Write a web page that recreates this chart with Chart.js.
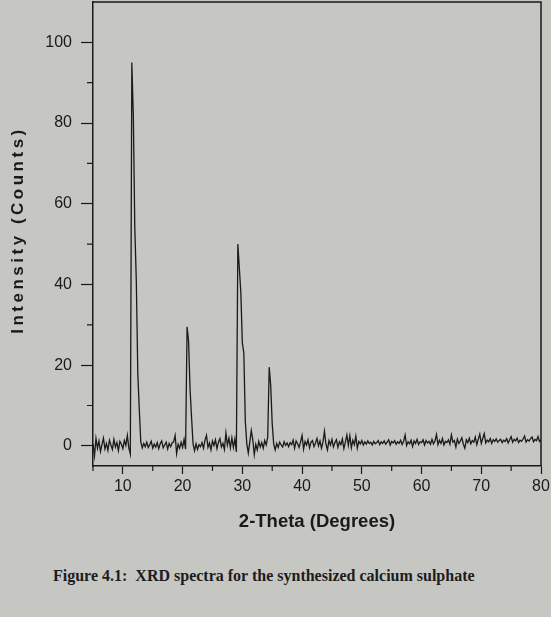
<!DOCTYPE html>
<html>
<head>
<meta charset="utf-8">
<script src="https://cdn.jsdelivr.net/npm/chart.js@4"></script>
<style>
  html, body { margin: 0; padding: 0; background: #c6c6c3; }
  #wrap { position: relative; width: 551px; height: 617px; overflow: hidden; }
  #xrd { position: absolute; left: 0; top: 0; }
  #caption {
    position: absolute; left: 53px; top: 567px;
    font: bold 16px "Liberation Serif", "Times New Roman", serif;
    color: #1c1c1c; white-space: nowrap;
  }
</style>
</head>
<body>
<div id="wrap">
  <canvas id="xrd" width="551" height="540"></canvas>
  <div id="caption">Figure 4.1:&nbsp; XRD spectra for the synthesized calcium sulphate</div>
</div>
<script>
/* XRD pattern, 2-theta from 5 to 80 deg, one reading every 0.25 deg */

const thetaStart = 5;
const thetaStep = 0.25;

const intensity = [
    // 5.00 - 11.25
    0.5, -2.5, 1.8, -0.6, 1.2, -1.4, 0.3, 1.9, -0.8, 0.6,
    -1.1, 1.4, 0.2, -0.9, 1.6, -0.3, 0.8, -1.2, 1.1, 0.4,
    -0.7, 1.3, 0.1, 2.6, -0.5, -2.0,
    // peak 11.50 - 13.00
    95, 82, 54, 41, 18, 9, 1,
    // 13.25 - 20.50
    -0.5, 0.6, -0.2, 0.9, -0.4, 0.3, 1.1, -0.6, 0.4, -0.3,
    0.8, -0.7, 0.5, 1.2, -0.5, 0.2, 0.9, -0.8, 0.6, -0.2,
    0.7, 1.0, 2.6, -1.9, 0.4, -0.6, 0.9, -0.4, 1.6, -0.8,
    // peak 20.75 - 21.75
    29.5, 26, 14, 7, 0.5,
    // 22.00 - 29.00
    -1.2, 0.5, -0.9, 0.3, -0.2, 0.8, -0.6, 1.4, 2.6, -0.4,
    0.7, -1.0, 1.2, 0.1, 1.5, -0.7, 0.9, 1.8, -0.3, 0.6,
    -0.9, 3.2, 0.2, 1.9, -0.5, 2.0, -0.4, 1.7, -1.5,
    // peak 29.25 - 30.75
    50, 44, 38, 25.5, 23, 6, 0.5,
    // 31.00 - 34.25
    -1.8, 1.0, 3.8, 1.5, -2.2, 0.4, -1.0, 1.1, -0.3, 0.8,
    -0.6, 1.3, 0.2, 2.2,
    // peak 34.50 - 35.25
    19.5, 15, 5.5, 0.5,
    // 35.50 - 80.00
    -1.0, 0.6, -0.4, 0.9, 0.2, -0.3, 1.0, 0.1, 0.7, -0.2,
    0.8, 0.3, 1.4, -0.6, 1.2, 0.5, -0.4, 1.0, 2.6, -0.8,
    1.1, 0.2, 1.5, -0.5, 0.9, 1.3, -0.2, 0.7, 1.8, 0.0,
    1.2, -0.6, 0.9, 3.6, 0.4, -1.0, 1.3, 0.2, 1.6, -0.3,
    0.8, 1.5, -0.4, 1.0, 0.3, 1.7, -0.7, 0.9, 2.7, 0.1,
    2.5, -0.5, 1.4, 0.3, 2.4, -0.6, 1.1, 0.5, 1.3, 0.2,
    1.0, 0.4, 1.2, 0.6, 0.9, 0.2, 1.1, 0.5, 0.8, 1.3,
    0.3, 1.0, 0.6, 1.2, 0.4, 0.9, 1.5, 0.2, 1.1, 0.7,
    1.3, 0.4, 1.0, 0.6, 1.4, 0.3, 1.1, 2.7, 0.1, 1.0,
    0.5, 1.4, -0.2, 1.2, 0.6, 1.6, 0.3, 1.0, 0.8, 1.5,
    0.2, 1.3, 0.7, 1.1, 0.4, 1.6, 0.5, 1.2, 2.8, 0.3,
    1.4, 0.6, 1.8, 0.2, 1.1, 0.8, 1.5, 0.4, 2.7, 0.9,
    1.3, -0.3, 1.7, 0.6, 1.2, 2.0, 0.4, -0.6, 1.5, 0.8,
    1.9, 0.5, 1.3, 0.9, 2.2, 0.3, 1.6, 2.9, 0.6, 1.8,
    3.0, 0.7, 1.4, 1.0, 1.8, 0.6, 1.5, 1.1, 1.7, 0.9,
    1.3, 1.6, 0.8, 1.4, 1.1, 1.8, 0.7, 1.5, 2.3, 0.9,
    1.6, 1.2, 1.9, 0.8, 1.4, 1.1, 1.7, 2.4, 0.9, 1.5,
    1.2, 1.8, 2.2, 1.0, 1.6, 1.3, 2.3, 1.1, 1.5
];

const xMajorTicks = [10, 20, 30, 40, 50, 60, 70, 80];
const xMinorTicks = [5, 15, 25, 35, 45, 55, 65, 75];
const yMajorTicks = [0, 20, 40, 60, 80, 100];
const yMinorTicks = [10, 30, 50, 70, 90];

const xTitle = '2-Theta (Degrees)';
const yTitle = 'Intensity (Counts)';

const ink = '#1a1a1a';
const tickFont = '"Liberation Sans", Arial, sans-serif';

const puntos = intensity.map((v, i) => ({ x: thetaStart + i * thetaStep, y: v }));

// frame on top/right, minor ticks and the spaced-out y title
const extras = {
    id: 'extras',
    afterDraw(chart) {
        const { ctx, chartArea: a, scales } = chart;
        ctx.save();
        ctx.strokeStyle = ink;
        ctx.lineWidth = 1.5;
        ctx.beginPath();
        ctx.moveTo(a.left, a.top);
        ctx.lineTo(a.right, a.top);
        ctx.lineTo(a.right, a.bottom);
        ctx.stroke();

        ctx.lineWidth = 1.2;
        ctx.beginPath();
        xMinorTicks.forEach(v => {
            const px = scales.x.getPixelForValue(v);
            ctx.moveTo(px, a.bottom);
            ctx.lineTo(px, a.bottom + 5);
        });
        yMinorTicks.forEach(v => {
            const py = scales.y.getPixelForValue(v);
            ctx.moveTo(a.left, py);
            ctx.lineTo(a.left - 6, py);
        });
        ctx.stroke();

        ctx.translate(18, 230);
        ctx.rotate(-Math.PI / 2);
        ctx.fillStyle = ink;
        ctx.font = 'bold 17px "Liberation Sans", Arial, sans-serif';
        ctx.letterSpacing = '3.5px';
        ctx.textAlign = 'center';
        ctx.textBaseline = 'middle';
        ctx.fillText(yTitle, 0, 0);
        ctx.restore();
    }
};

const config_xrd = {
    type: 'line',
    data: {
        datasets: [{
            label: 'XRD',
            data: puntos,
            borderColor: ink,
            borderWidth: 1.3,
            pointRadius: 0,
            tension: 0,
            fill: false
        }]
    },
    options: {
        responsive: false,
        animation: false,
        events: [],
        layout: { padding: { left: 0, right: 10, top: 2, bottom: 0 } },
        plugins: {
            legend: { display: false },
            tooltip: { enabled: false }
        },
        scales: {
            x: {
                type: 'linear',
                min: 5,
                max: 80,
                afterFit(scale) {
                    scale.height = 74;
                    scale.paddingLeft = 0;
                    scale.paddingRight = 0;
                },
                afterBuildTicks(scale) {
                    scale.ticks = xMajorTicks.map(v => ({ value: v }));
                },
                border: { display: true, color: ink, width: 1.5 },
                grid: {
                    display: true,
                    drawOnChartArea: false,
                    drawTicks: true,
                    tickLength: 8,
                    tickWidth: 1.2,
                    color: 'transparent',
                    tickColor: ink
                },
                ticks: {
                    color: ink,
                    padding: 3,
                    maxRotation: 0,
                    font: { family: tickFont, size: 16 }
                },
                title: {
                    display: true,
                    text: xTitle,
                    color: ink,
                    font: { family: tickFont, size: 18.5, weight: 'bold' },
                    padding: { top: 0, bottom: 7 }
                }
            },
            y: {
                type: 'linear',
                min: -5,
                max: 110,
                afterFit(scale) {
                    scale.width = 93;
                    scale.paddingTop = 0;
                    scale.paddingBottom = 0;
                },
                afterBuildTicks(scale) {
                    scale.ticks = yMajorTicks.map(v => ({ value: v }));
                },
                border: { display: true, color: ink, width: 1.5 },
                grid: {
                    display: true,
                    drawOnChartArea: false,
                    drawTicks: true,
                    tickLength: 12,
                    tickWidth: 1.2,
                    color: 'transparent',
                    tickColor: ink
                },
                ticks: {
                    color: ink,
                    padding: 9,
                    font: { family: tickFont, size: 16 }
                }
            }
        }
    },
    plugins: [extras]
};

const grafico_xrd = new Chart(
    document.getElementById('xrd'),
    config_xrd
);
</script>
</body>
</html>
